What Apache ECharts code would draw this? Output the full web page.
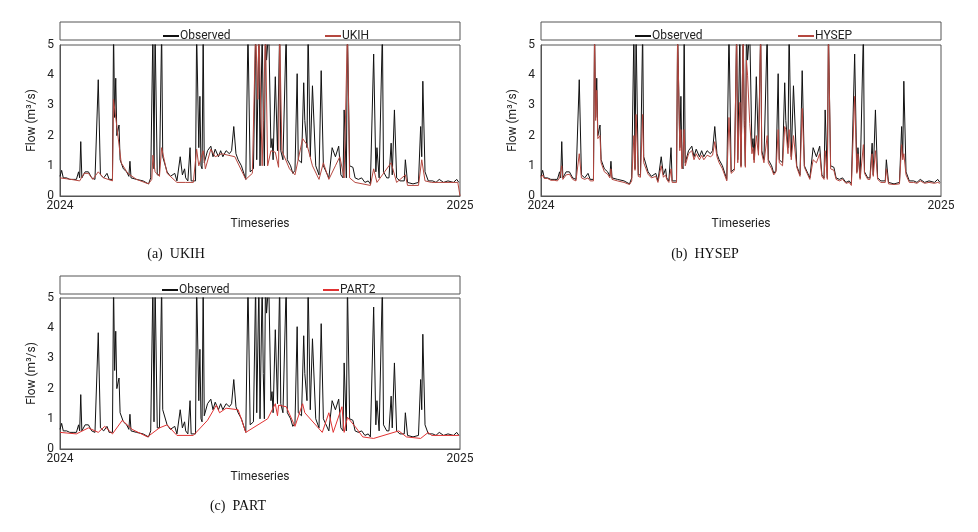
<!DOCTYPE html>
<html><head><meta charset="utf-8">
<script src="https://cdn.jsdelivr.net/npm/echarts@6/dist/echarts.min.js"></script>
<style>html,body{margin:0;background:#fff}#c{width:978px;height:532px}</style>
</head><body><div id="c"></div>
<script>
// day of year, observed flow (m3/s)
const observed = [[0,.65],[1.5,.85],[3,.6],[6,.6],[9,.55],[12,.55],[15,.55],[17,.8],[18,.6],[19,1.8],[20,.6],[23,.8],[26,.8],[29,.6],[32,.55],[35,3.85],[37,.7],[40,.6],[43,.75],[45,.55],[48,.55],[49,5.5],[50,2.6],[51,3.9],[52,2.0],[54,2.35],[55,1.2],[58,.9],[61,.8],[63,.65],[64,1.15],[65,.6],[70,.55],[76,.5],[81,.4],[83,.6],[85,5.5],[86,.9],[87,5.5],[89,.7],[91,.7],[93,5.5],[94,1.3],[98,.8],[101,.65],[105,.75],[107,.5],[110,1.3],[112,.7],[114,.9],[115,.6],[117,.5],[119,1.6],[120,.5],[124,.5],[125,5.5],[127,1.6],[128,3.3],[129,1.0],[130,.9],[131,5.5],[132,1.1],[135,1.5],[138,1.65],[140,1.3],[142,1.55],[145,1.3],[147,1.5],[149,1.3],[152,1.5],[155,1.4],[157,1.5],[159,2.3],[161,1.4],[163,1.2],[166,1.0],[170,.55],[172,5.5],[174,.8],[177,.9],[179,5.5],[180,1.2],[182,5.5],[183,1.0],[185,5.5],[186,2.5],[187,1.0],[188,5.5],[189,4.5],[191,5.5],[193,1.6],[194,1.9],[195,1.2],[197,3.95],[199,1.5],[201,5.5],[202,1.5],[204,1.2],[207,5.5],[208,1.2],[211,1.0],[213,.75],[215,.85],[217,4.05],[218,1.2],[221,1.1],[223,3.75],[224,2.5],[226,1.6],[227,5.5],[229,1.3],[231,3.65],[234,1.0],[237,.7],[239,4.15],[241,1.0],[246,.6],[249,1.6],[252,1.3],[255,1.65],[257,.7],[259,.6],[260,2.85],[262,.6],[263,5.5],[265,1.0],[268,.95],[270,.6],[273,.55],[276,.6],[279,.45],[282,.5],[284,.4],[287,4.7],[289,.8],[290,1.6],[292,.6],[295,5.5],[296,.8],[299,.6],[301,.6],[303,1.75],[304,.7],[306,2.85],[308,.6],[311,.5],[315,.5],[316,1.2],[318,.45],[323,.4],[328,.45],[330,2.3],[331,1.3],[332,3.8],[334,.8],[337,.5],[341,.5],[344,.45],[347,.55],[351,.45],[355,.5],[360,.45],[363,.55],[365,.45]];
const ukih = [[0,.6],[10,.55],[18,.5],[22,.75],[26,.75],[30,.55],[35,.8],[40,.6],[48,.5],[49,3.2],[52,2.3],[56,1.1],[62,.75],[70,.55],[81,.4],[84,.55],[85,1.35],[87,.8],[91,.65],[93,1.6],[98,.75],[107,.45],[115,.45],[122,.45],[125,1.55],[127,1.0],[131,1.5],[133,.9],[138,1.55],[142,1.3],[148,1.4],[160,1.3],[170,.55],[176,.75],[179,5.5],[181,3.2],[182,5.5],[185,1.0],[188,5.5],[190,1.0],[193,1.5],[197,1.45],[200,.95],[201,5.5],[203,1.5],[210,.9],[215,.7],[222,1.9],[226,1.7],[231,1.0],[237,.55],[241,1.1],[246,.55],[252,1.0],[256,1.3],[260,.6],[263,5.5],[265,.6],[270,.45],[284,.35],[287,.9],[290,.45],[295,.7],[303,1.1],[308,.45],[316,.7],[318,.35],[328,.35],[331,1.2],[334,.5],[340,.45],[364,.45],[366,0]];
const hysep = [[0,.6],[1.5,.7],[3,.58],[6,.58],[9,.52],[12,.52],[15,.5],[17,.6],[18,.55],[19,1.0],[20,.55],[23,.7],[26,.72],[29,.55],[32,.5],[35,1.4],[37,.6],[40,.55],[43,.6],[45,.5],[48,.5],[49,5.5],[50,2.5],[51,3.5],[52,1.9],[54,2.0],[55,1.1],[58,.8],[61,.72],[63,.6],[64,.9],[65,.55],[70,.5],[76,.45],[81,.38],[83,.5],[85,2.0],[86,.85],[87,2.7],[89,.65],[91,.62],[93,2.7],[94,1.1],[98,.72],[101,.6],[105,.65],[107,.45],[110,1.0],[112,.62],[114,.7],[115,.55],[117,.45],[119,.9],[120,.45],[124,.45],[125,5.5],[127,1.5],[128,2.2],[129,.9],[130,.85],[131,2.2],[132,1.0],[135,1.4],[138,1.5],[140,1.2],[142,1.4],[145,1.2],[147,1.35],[149,1.2],[152,1.35],[155,1.3],[157,1.35],[159,1.8],[161,1.3],[163,1.1],[166,.9],[170,.5],[172,2.6],[174,.75],[177,.85],[179,5.5],[180,1.1],[182,3.1],[183,.95],[185,5.5],[186,2.3],[187,.95],[188,4.5],[189,4.0],[191,2.4],[193,1.4],[194,1.6],[195,1.1],[197,2.0],[199,1.35],[201,5.5],[202,1.4],[204,1.1],[207,2.0],[208,1.1],[211,.9],[213,.7],[215,.8],[217,2.2],[218,1.1],[221,1.0],[223,2.3],[224,2.2],[226,1.4],[227,2.2],[229,1.2],[231,2.0],[234,.95],[237,.65],[239,2.9],[241,.95],[246,.55],[249,1.2],[252,1.1],[255,1.4],[257,.65],[259,.55],[260,1.5],[262,.55],[263,5.5],[265,.9],[268,.85],[270,.55],[273,.5],[276,.55],[279,.42],[282,.45],[284,.35],[287,3.3],[289,.75],[290,1.4],[292,.55],[295,1.7],[296,.75],[299,.55],[301,.55],[303,1.4],[304,.65],[306,1.5],[308,.55],[311,.45],[315,.45],[316,.9],[318,.4],[323,.38],[328,.4],[330,1.7],[331,1.2],[332,1.4],[334,.7],[337,.45],[341,.45],[344,.42],[347,.5],[351,.42],[355,.45],[360,.42],[363,.45],[365,.42]];
const part2 = [[0,.55],[15,.5],[26,.7],[35,.55],[41,.75],[48,.5],[57,.95],[66,.65],[80,.4],[91,.7],[98,.8],[107,.45],[122,.45],[135,.95],[143,1.45],[146,1.2],[152,1.35],[163,1.3],[170,.55],[190,1.0],[197,1.5],[199,1.1],[200,1.45],[207,1.4],[215,.75],[222,1.5],[224,1.2],[240,.55],[246,1.2],[250,.55],[258,1.4],[260,.55],[263,1.05],[271,.7],[277,.4],[287,.35],[310,.6],[317,.4],[330,.35],[337,.55],[340,.45],[365,.45]];
const xTicks = ['2024','2025'];
const panels = [
  {base:'UKIH', data:ukih, color:'#b5473f', cap:'(a)  UKIH'},
  {base:'HYSEP', data:hysep, color:'#b5473f', cap:'(b)  HYSEP'},
  {base:'PART2', data:part2, color:'#e03232', cap:'(c)  PART'}
];
const F = 'Roboto, "Liberation Sans", sans-serif';
const geo = [{l:60,t:45},{l:541,t:45},{l:60,t:298}];
const legPos = [{obs:158,base:320},{obs:630,base:793},{obs:157,base:318}];
const option = {animation:false, grid:[], xAxis:[], yAxis:[], series:[], legend:[], graphic:[]};
panels.forEach((p,i)=>{
  const g = geo[i];
  option.grid.push({left:g.l, top:g.t, width:400, height:151, show:true, borderColor:'#555', borderWidth:1});
  option.xAxis.push({type:'value', gridIndex:i, min:0, max:366, interval:366, name:'Timeseries', nameLocation:'middle', nameGap:22,
    nameTextStyle:{fontFamily:F, fontSize:12, color:'#222'},
    axisLine:{lineStyle:{color:'#555'}}, axisTick:{show:false}, splitLine:{show:false},
    axisLabel:{fontFamily:F, fontSize:12, color:'#222', margin:4, formatter:v=>v===0?xTicks[0]:xTicks[1]}});
  option.yAxis.push({type:'value', gridIndex:i, min:0, max:5, interval:1, name:'Flow (m³/s)', nameLocation:'middle', nameGap:22,
    nameTextStyle:{fontFamily:F, fontSize:12, color:'#222'},
    axisLine:{show:true, lineStyle:{color:'#555'}}, axisTick:{show:false}, splitLine:{show:false},
    axisLabel:{fontFamily:F, fontSize:12, color:'#222', margin:6}});
  option.series.push({type:'line', name:'Observed', xAxisIndex:i, yAxisIndex:i, data:observed, symbol:'none', clip:true, lineStyle:{color:'#111', width:1}, itemStyle:{color:'#111'}, z:2});
  option.series.push({type:'line', name:p.base, xAxisIndex:i, yAxisIndex:i, data:p.data, symbol:'none', clip:true, lineStyle:{color:p.color, width:1}, itemStyle:{color:p.color}, z:3});
  const by = i<2?22:276;
  option.graphic.push({type:'rect', shape:{x:g.l, y:by, width:400, height:18}, style:{fill:'none', stroke:'#555', lineWidth:1}});
  const lp = legPos[i];
  option.legend.push({data:['Observed'], left:lp.obs, top:by+3, itemWidth:16, itemHeight:2, icon:'rect', itemGap:4, textStyle:{fontFamily:F, fontSize:12, color:'#222', padding:[0,0,0,-4]}, selectedMode:false});
  option.legend.push({data:[p.base], left:lp.base, top:by+3, itemWidth:16, itemHeight:2, icon:'rect', textStyle:{fontFamily:F, fontSize:12, color:'#222', padding:[0,0,0,-4]}, selectedMode:false});
  const cx = i===1?705:(i===0?176:238);
  const cy = i<2?254:506;
  option.graphic.push({type:'text', x:cx, y:cy, style:{text:p.cap, font:'14px "Liberation Serif", serif', fill:'#111', textAlign:'center', textVerticalAlign:'middle'}});
});
echarts.init(document.getElementById('c')).setOption(option);
</script></body></html>
